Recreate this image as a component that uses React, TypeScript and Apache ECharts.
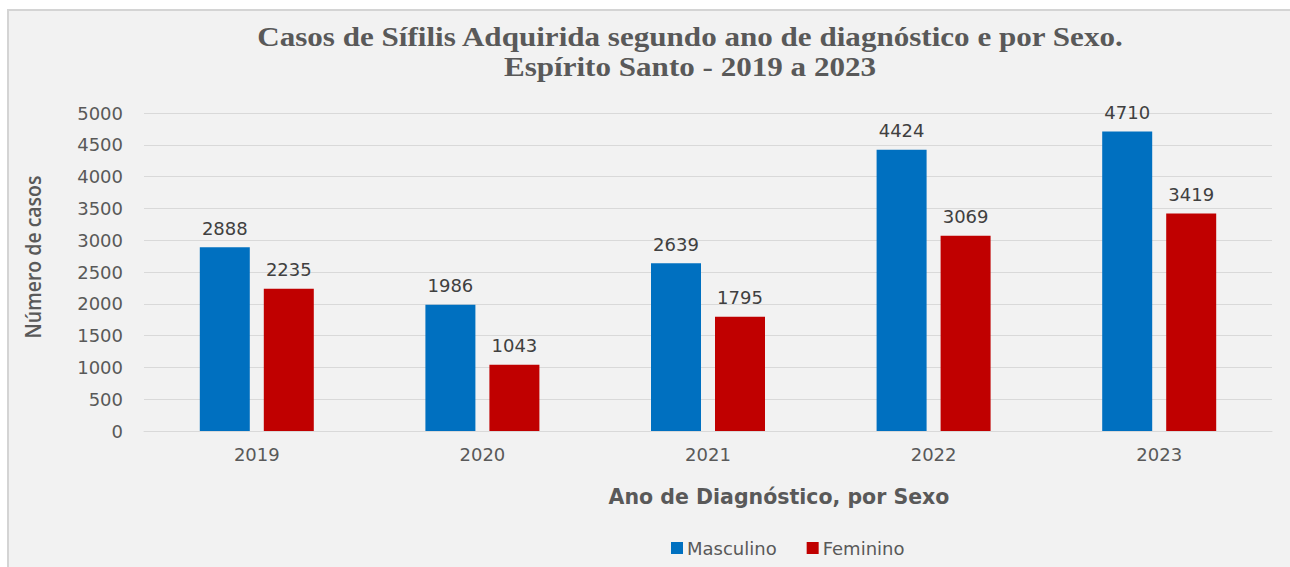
import React, { useEffect, useRef } from "react";
import * as echarts from "echarts";

const years = ["2019", "2020", "2021", "2022", "2023"];
const masculino = [2888, 1986, 2639, 4424, 4710];
const feminino = [2235, 1043, 1795, 3069, 3419];
const titleLines = [
  "Casos de Sífilis Adquirida segundo ano de diagnóstico e por Sexo.",
  "Espírito Santo - 2019 a 2023",
];
const yAxisTitle = "Número de casos";
const xAxisTitle = "Ano de Diagnóstico, por Sexo";

const SANS = "'DejaVu Sans', 'Open Sans', sans-serif";
const TXT = "#595959";

export default function App() {
  const ref = useRef<HTMLDivElement>(null);
  useEffect(() => {
    document.documentElement.style.overflow = "hidden";
    document.body.style.overflow = "hidden";
    if (!ref.current) return;
    const chart = echarts.init(ref.current, null, { renderer: "svg" });
    const titleFont = "bold 28px 'Liberation Serif', 'Times New Roman', serif";
    chart.setOption({
      animation: false,
      backgroundColor: "transparent",
      graphic: [
        {
          type: "text",
          x: 690,
          y: 37,
          scaleX: 1.11,
          style: { text: titleLines[0], font: titleFont, fill: TXT, align: "center", verticalAlign: "middle" },
        },
        {
          type: "text",
          x: 690,
          y: 67,
          scaleX: 1.11,
          style: { text: titleLines[1], font: titleFont, fill: TXT, align: "center", verticalAlign: "middle" },
        },
        {
          type: "text",
          x: 779,
          y: 497,
          style: {
            text: xAxisTitle,
            font: `bold 20.5px 'DejaVu Sans', sans-serif`,
            fill: TXT,
            align: "center",
            verticalAlign: "middle",
          },
        },
        {
          type: "text",
          x: 33,
          y: 257,
          rotation: Math.PI / 2,
          scaleX: 0.885,
          style: {
            text: yAxisTitle,
            font: `600 22px 'Open Sans', sans-serif`,
            fill: TXT,
            align: "center",
            verticalAlign: "middle",
          },
        },
      ],
      legend: {
        left: 666,
        top: 534,
        itemWidth: 12,
        itemHeight: 12,
        itemGap: 30,
        icon: "rect",
        textStyle: { color: TXT, fontSize: 18, fontFamily: SANS, padding: [0, 0, 0, -1] },
        data: ["Masculino", "Feminino"],
      },
      grid: { left: 144, right: 18, top: 113, bottom: 136, containLabel: false },
      xAxis: {
        type: "category",
        data: years,
        axisLine: { lineStyle: { color: "#d9d9d9", width: 1 } },
        axisTick: { show: false },
        axisLabel: { color: TXT, fontSize: 18, fontFamily: SANS, margin: 14 },
      },
      yAxis: {
        type: "value",
        min: 0,
        max: 5000,
        interval: 500,
        axisLine: { show: false },
        axisTick: { show: false },
        axisLabel: {
          color: TXT,
          fontSize: 18,
          fontFamily: SANS,
          margin: 21,
          formatter: (v: number) => String(v),
        },
        splitLine: { lineStyle: { color: "#d9d9d9", width: 1 } },
      },
      series: [
        {
          name: "Masculino",
          type: "bar",
          data: masculino,
          barWidth: 50,
          barGap: "28%",
          itemStyle: { color: "#0070c0" },
          label: { show: true, position: "top", distance: 10, color: "#404040", fontSize: 18, fontFamily: SANS },
        },
        {
          name: "Feminino",
          type: "bar",
          data: feminino,
          barWidth: 50,
          itemStyle: { color: "#c00000" },
          label: { show: true, position: "top", distance: 10, color: "#404040", fontSize: 18, fontFamily: SANS },
        },
      ],
    });
    return () => chart.dispose();
  }, []);
  return (
    <div style={{ position: "fixed", left: 0, top: 0, width: 1290, height: 567, background: "#ffffff", overflow: "hidden" }}>
      <div
        style={{
          position: "absolute",
          left: 7,
          top: 9,
          width: 1290,
          height: 570,
          boxSizing: "border-box",
          background: "#f2f2f2",
          borderTop: "2px solid #d4d4d4",
          borderLeft: "2px solid #d4d4d4",
        }}
      />
      <div ref={ref} style={{ position: "absolute", left: 0, top: 0, width: 1290, height: 567 }} />
    </div>
  );
}
